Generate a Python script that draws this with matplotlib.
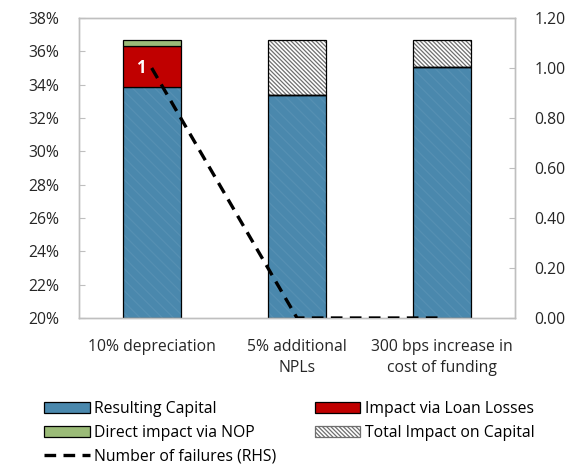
import matplotlib
matplotlib.use("Agg")
import matplotlib.pyplot as plt
from matplotlib.patches import Patch
from matplotlib.lines import Line2D

plt.rcParams['font.family'] = ['Open Sans', 'DejaVu Sans']
plt.rcParams['hatch.linewidth'] = 0.9

categories = ["10% depreciation", "5% additional\nNPLs", "300 bps increase in\ncost of funding"]
resulting_capital = [33.85, 33.4, 35.05]
loan_losses = [2.45, 0.0, 0.0]
nop_impact = [0.4, 0.0, 0.0]
total_impact = [0.0, 3.3, 1.65]
failures = [1, 0, 0]

blue = "#4a88ad"
red = "#c00000"
green = "#9bbb78"
grey = "#bfbfbf"
fs = 11.3
hatch = "\\" * 8

fig = plt.figure(figsize=(5.74, 4.67), dpi=100)
ax = fig.add_axes([79/574, 1-318/467, (515-79)/574, 300/467])
ax2 = ax.twinx()

x = list(range(len(categories)))
w = 0.4
base = 20.0
cap_h = [v - base for v in resulting_capital]
ax.bar(x, cap_h, w, bottom=base, color=blue, edgecolor="#5690b3", hatch="\\\\\\",
       linewidth=0, zorder=2)
ax.bar(x, cap_h, w, bottom=base, color="none", edgecolor="black", linewidth=0.9, zorder=3)
b2 = [base + h for h in cap_h]
ax.bar(x, loan_losses, w, bottom=b2, color=red, edgecolor="black", linewidth=0.9, zorder=3)
b3 = [b + l for b, l in zip(b2, loan_losses)]
ax.bar(x, nop_impact, w, bottom=b3, color=green, edgecolor="black", linewidth=0.9, zorder=3)
b4 = [b + n for b, n in zip(b3, nop_impact)]
for xi, t, b in zip(x, total_impact, b4):
    if t > 0:
        ax.bar(xi, t, w, bottom=b, color="white", edgecolor="#6f6f6f", hatch=hatch,
               linewidth=0, zorder=2)
        ax.bar(xi, t, w, bottom=b, color="none", edgecolor="black", linewidth=0.9, zorder=3)

ax.set_xlim(-0.5, 2.5)
ax.set_ylim(20, 38)
ax.set_yticks(range(20, 39, 2))
ax.set_yticklabels([f"{v}%" for v in range(20, 39, 2)])
ax.set_xticks(x)
ax.set_xticklabels(categories, linespacing=1.4)

ax2.set_ylim(0, 1.2)
ax2.set_yticks([0, 0.2, 0.4, 0.6, 0.8, 1.0, 1.2])
ax2.set_yticklabels([f"{v:.2f}" for v in [0, 0.2, 0.4, 0.6, 0.8, 1.0, 1.2]])
ax2.plot(x, failures, color="black", linestyle=(0, (3.5, 2.2)), linewidth=2.4, zorder=5)
ax2.text(x[0] - 0.045, failures[0], str(failures[0]), color="white", fontweight="bold",
         fontsize=12, ha="right", va="center", zorder=6)

for a in (ax, ax2):
    for s in a.spines.values():
        s.set_color(grey)
        s.set_linewidth(1.0)
    a.tick_params(colors="#262626", labelsize=fs, length=4, color=grey, direction="in")
ax.tick_params(axis="x", length=0, pad=15)
ax.tick_params(axis="y", pad=14)
ax2.tick_params(axis="y", pad=14)

handles = [
    Patch(facecolor=blue, edgecolor="black", linewidth=0.9),
    Patch(facecolor=green, edgecolor="black", linewidth=0.9),
    Line2D([0], [0], color="black", linestyle=(0, (3.5, 2.2)), linewidth=2.4),
    Patch(facecolor=red, edgecolor="black", linewidth=0.9),
    Patch(facecolor="white", edgecolor="#6f6f6f", hatch=hatch, linewidth=0.9),
]
labels = ["Resulting Capital", "Direct impact via NOP", "Number of failures (RHS)",
          "Impact via Loan Losses", "Total Impact on Capital"]
leg = fig.legend(handles, labels, loc="upper left", bbox_to_anchor=(44/574, 1-401/467), ncol=2,
                 frameon=False, fontsize=fs, handlelength=2.9, handleheight=0.7,
                 handletextpad=0.3, columnspacing=2.45, labelspacing=0.5,
                 borderaxespad=0, borderpad=0)

fig.savefig("out.png", dpi=100)
